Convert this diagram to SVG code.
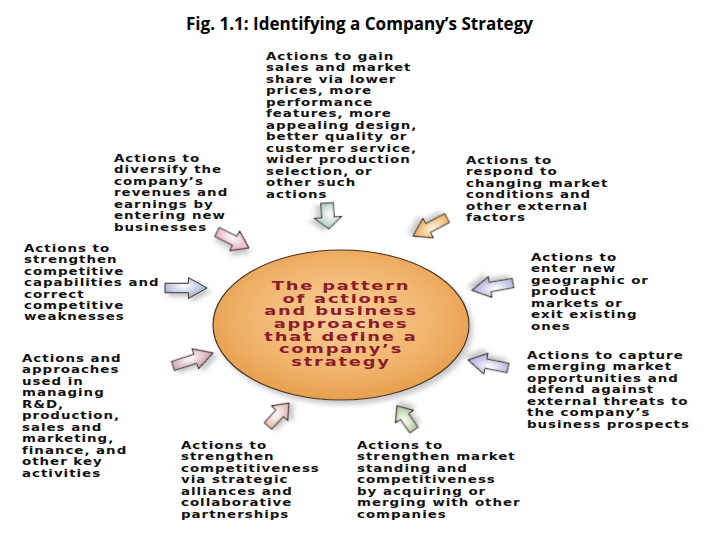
<svg xmlns="http://www.w3.org/2000/svg" width="720" height="540" viewBox="0 0 720 540">
<style>
.lbl{font-family:"DejaVu Sans","Liberation Sans",sans-serif;font-weight:bold;font-size:11px;fill:#111;letter-spacing:0.8px}
.ctr{font-family:"DejaVu Sans","Liberation Sans",sans-serif;font-weight:bold;font-size:12px;fill:#8a1c2e;letter-spacing:1.2px;text-anchor:middle}
.title{font-family:"Open Sans","Liberation Sans",sans-serif;font-weight:700;font-size:17px;fill:#000}
.arr{stroke:#3a2a2a;stroke-width:1;stroke-linejoin:round;filter:url(#sh)}
</style>
<defs>
<filter id="sh" x="-30%" y="-30%" width="160%" height="160%">
<feDropShadow dx="3" dy="4" stdDeviation="2.5" flood-color="#888" flood-opacity="0.45"/>
</filter>
<path id="ap" d="M0,-5 L20,-5 L20,-11 L36,0 L20,11 L20,5 L0,5 Z" vector-effect="non-scaling-stroke"/>
<radialGradient id="gEll" cx="50%" cy="45%" r="60%">
<stop offset="0" stop-color="#f9cf98"/>
<stop offset="0.6" stop-color="#f1b46d"/>
<stop offset="1" stop-color="#e39a45"/>
</radialGradient>
<radialGradient id="gTeal" cx="45%" cy="40%" r="60%"><stop offset="0" stop-color="#ffffff"/><stop offset="1" stop-color="#9fc4b8"/></radialGradient>
<radialGradient id="gPink" cx="45%" cy="40%" r="60%"><stop offset="0" stop-color="#ffffff"/><stop offset="1" stop-color="#e2a2b0"/></radialGradient>
<radialGradient id="gOrange" cx="45%" cy="40%" r="60%"><stop offset="0" stop-color="#fff4e0"/><stop offset="1" stop-color="#eda24a"/></radialGradient>
<radialGradient id="gBlue" cx="45%" cy="40%" r="60%"><stop offset="0" stop-color="#ffffff"/><stop offset="1" stop-color="#93a8cc"/></radialGradient>
<radialGradient id="gPurp" cx="45%" cy="40%" r="60%"><stop offset="0" stop-color="#ffffff"/><stop offset="1" stop-color="#9ea3cf"/></radialGradient>
<radialGradient id="gMauve" cx="45%" cy="40%" r="60%"><stop offset="0" stop-color="#ffffff"/><stop offset="1" stop-color="#c4949e"/></radialGradient>
<radialGradient id="gLav" cx="45%" cy="40%" r="60%"><stop offset="0" stop-color="#ffffff"/><stop offset="1" stop-color="#aaa0d6"/></radialGradient>
<radialGradient id="gPeach" cx="45%" cy="40%" r="60%"><stop offset="0" stop-color="#ffffff"/><stop offset="1" stop-color="#dca69e"/></radialGradient>
<radialGradient id="gGreen" cx="45%" cy="40%" r="60%"><stop offset="0" stop-color="#ffffff"/><stop offset="1" stop-color="#9cc184"/></radialGradient>
</defs>
<rect width="720" height="540" fill="#fff"/>
<text class="title" x="186" y="30" textLength="347" lengthAdjust="spacingAndGlyphs">Fig. 1.1:  Identifying a Company’s Strategy</text>

<g id="center">
<ellipse cx="341" cy="325" rx="128" ry="75" fill="url(#gEll)" stroke="#4a3020" stroke-width="1.2" filter="url(#sh)"/>
<g transform="translate(341,0) scale(1.49,1)">
<text class="ctr" x="0" y="290">The pattern</text>
<text class="ctr" x="0" y="302.7">of actions</text>
<text class="ctr" x="0" y="315.4">and business</text>
<text class="ctr" x="0" y="328.1">approaches</text>
<text class="ctr" x="0" y="340.8">that define a</text>
<text class="ctr" x="0" y="353.5">company’s</text>
<text class="ctr" x="0" y="366.2">strategy</text>
</g>
</g>

<g id="connectors">
<use href="#ap" class="arr" fill="url(#gTeal)" transform="translate(327,203) rotate(86) scale(0.72,1.25)"/>
<use href="#ap" class="arr" fill="url(#gPink)" transform="translate(217,232) rotate(26.6) scale(0.99,1)"/>
<use href="#ap" class="arr" fill="url(#gOrange)" transform="translate(447,218) rotate(152) scale(1.07,1)"/>
<use href="#ap" class="arr" fill="url(#gBlue)" transform="translate(165,288) rotate(0) scale(1.17,0.95)"/>
<use href="#ap" class="arr" fill="url(#gPurp)" transform="translate(513,283) rotate(170) scale(1.16,0.95)"/>
<use href="#ap" class="arr" fill="url(#gMauve)" transform="translate(173,366) rotate(-18) scale(1.17,0.95)"/>
<use href="#ap" class="arr" fill="url(#gLav)" transform="translate(508,368) rotate(191.3) scale(1.13,0.95)"/>
<use href="#ap" class="arr" fill="url(#gPeach)" transform="translate(268,426) rotate(-47.6) scale(0.86,1)"/>
<use href="#ap" class="arr" fill="url(#gGreen)" transform="translate(414,430) rotate(-125.3) scale(0.82,1)"/>
</g>

<g id="n-top" transform="translate(266,0) scale(1.22,1)">
<text class="lbl" x="0" y="60">Actions to gain</text>
<text class="lbl" x="0" y="71.5">sales and market</text>
<text class="lbl" x="0" y="83">share via lower</text>
<text class="lbl" x="0" y="94.5">prices, more</text>
<text class="lbl" x="0" y="106">performance</text>
<text class="lbl" x="0" y="117.5">features, more</text>
<text class="lbl" x="0" y="129">appealing design,</text>
<text class="lbl" x="0" y="140.5">better quality or</text>
<text class="lbl" x="0" y="152">customer service,</text>
<text class="lbl" x="0" y="163.5">wider production</text>
<text class="lbl" x="0" y="175">selection, or</text>
<text class="lbl" x="0" y="186.5">other such</text>
<text class="lbl" x="0" y="198">actions</text>
</g>

<g id="n-diversify" transform="translate(114,0) scale(1.22,1)">
<text class="lbl" x="0" y="162">Actions to</text>
<text class="lbl" x="0" y="173.5">diversify the</text>
<text class="lbl" x="0" y="185">company’s</text>
<text class="lbl" x="0" y="196.5">revenues and</text>
<text class="lbl" x="0" y="208">earnings by</text>
<text class="lbl" x="0" y="219.5">entering new</text>
<text class="lbl" x="0" y="231">businesses</text>
</g>

<g id="n-respond" transform="translate(466,0) scale(1.22,1)">
<text class="lbl" x="0" y="164">Actions to</text>
<text class="lbl" x="0" y="175.5">respond to</text>
<text class="lbl" x="0" y="187">changing market</text>
<text class="lbl" x="0" y="198.5">conditions and</text>
<text class="lbl" x="0" y="210">other external</text>
<text class="lbl" x="0" y="221.5">factors</text>
</g>

<g id="n-strengthen" transform="translate(24,0) scale(1.22,1)">
<text class="lbl" x="0" y="252">Actions to</text>
<text class="lbl" x="0" y="263.4">strengthen</text>
<text class="lbl" x="0" y="274.8">competitive</text>
<text class="lbl" x="0" y="286.2">capabilities and</text>
<text class="lbl" x="0" y="297.6">correct</text>
<text class="lbl" x="0" y="309">competitive</text>
<text class="lbl" x="0" y="320.4">weaknesses</text>
</g>

<g id="n-enter" transform="translate(531,0) scale(1.22,1)">
<text class="lbl" x="0" y="261">Actions to</text>
<text class="lbl" x="0" y="272.5">enter new</text>
<text class="lbl" x="0" y="284">geographic or</text>
<text class="lbl" x="0" y="295.5">product</text>
<text class="lbl" x="0" y="307">markets or</text>
<text class="lbl" x="0" y="318.5">exit existing</text>
<text class="lbl" x="0" y="330">ones</text>
</g>

<g id="n-approaches" transform="translate(22,0) scale(1.22,1)">
<text class="lbl" x="0" y="362">Actions and</text>
<text class="lbl" x="0" y="373.5">approaches</text>
<text class="lbl" x="0" y="385">used in</text>
<text class="lbl" x="0" y="396.5">managing</text>
<text class="lbl" x="0" y="408">R&amp;D,</text>
<text class="lbl" x="0" y="419.5">production,</text>
<text class="lbl" x="0" y="431">sales and</text>
<text class="lbl" x="0" y="442.5">marketing,</text>
<text class="lbl" x="0" y="454">finance, and</text>
<text class="lbl" x="0" y="465.5">other key</text>
<text class="lbl" x="0" y="477">activities</text>
</g>

<g id="n-capture" transform="translate(527,0) scale(1.22,1)">
<text class="lbl" x="0" y="359">Actions to capture</text>
<text class="lbl" x="0" y="370.5">emerging market</text>
<text class="lbl" x="0" y="382">opportunities and</text>
<text class="lbl" x="0" y="393.5">defend against</text>
<text class="lbl" x="0" y="405">external threats to</text>
<text class="lbl" x="0" y="416.5">the company’s</text>
<text class="lbl" x="0" y="428">business prospects</text>
</g>

<g id="n-alliances" transform="translate(181,0) scale(1.22,1)">
<text class="lbl" x="0" y="449">Actions to</text>
<text class="lbl" x="0" y="460.5">strengthen</text>
<text class="lbl" x="0" y="472">competitiveness</text>
<text class="lbl" x="0" y="483.5">via strategic</text>
<text class="lbl" x="0" y="495">alliances and</text>
<text class="lbl" x="0" y="506.5">collaborative</text>
<text class="lbl" x="0" y="518">partnerships</text>
</g>

<g id="n-acquire" transform="translate(357,0) scale(1.22,1)">
<text class="lbl" x="0" y="449">Actions to</text>
<text class="lbl" x="0" y="460.5">strengthen market</text>
<text class="lbl" x="0" y="472">standing and</text>
<text class="lbl" x="0" y="483.5">competitiveness</text>
<text class="lbl" x="0" y="495">by acquiring or</text>
<text class="lbl" x="0" y="506.5">merging with other</text>
<text class="lbl" x="0" y="518">companies</text>
</g>
</svg>
